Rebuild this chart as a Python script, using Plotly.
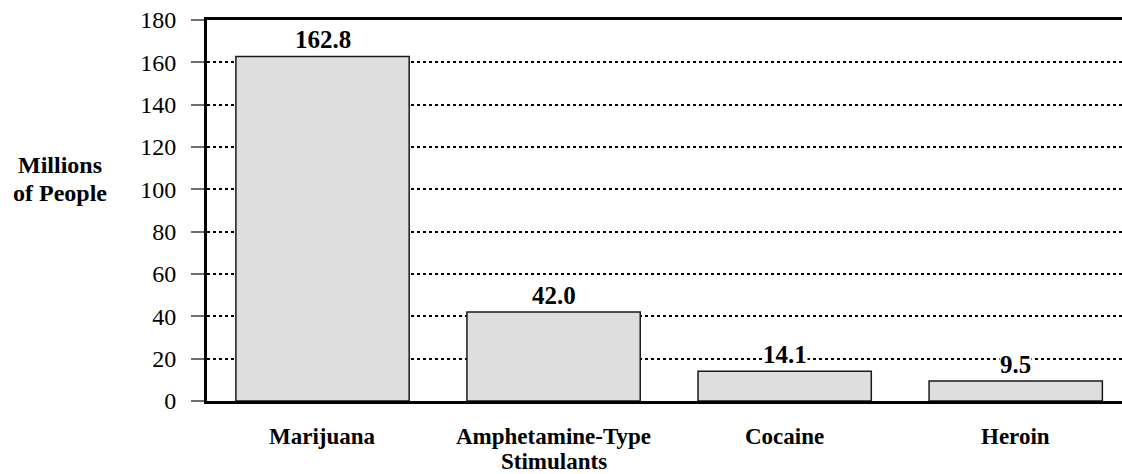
import plotly.graph_objects as go

categories = ["Marijuana", "Amphetamine-Type<br>Stimulants", "Cocaine", "Heroin"]
values = [162.8, 42.0, 14.1, 9.5]
value_labels = ["162.8", "42.0", "14.1", "9.5"]
y_ticks = [0, 20, 40, 60, 80, 100, 120, 140, 160, 180]
y_title_lines = ["Millions", "of People"]

FONT = "'Times New Roman', 'Liberation Serif', Times, serif"

fig = go.Figure()
fig.add_trace(go.Bar(
    x=categories, y=values, width=0.75,
    marker=dict(color="#DEDEDE", line=dict(color="#1a1a1a", width=1.5)),
    hoverinfo="skip",
))

# value labels above bars (white background interrupts the gridlines)
for c, v, t in zip(categories, values, value_labels):
    fig.add_annotation(x=c, y=v, text="<b>%s</b>" % t, showarrow=False,
                       yanchor="bottom", yshift=2, bgcolor="white",
                       font=dict(family=FONT, size=25, color="black"), borderpad=0)

# category labels, one annotation per line for tight line spacing
for c in categories:
    for i, line in enumerate(c.split("<br>")):
        fig.add_annotation(x=c, y=0, yref="y", text="<b>%s</b>" % line,
                           showarrow=False, yanchor="middle",
                           yshift=-35 - 25 * i,
                           font=dict(family=FONT, size=23, color="black"))

# y-axis title, horizontal, two lines
for i, line in enumerate(y_title_lines):
    fig.add_annotation(xref="paper", yref="paper", x=(60 - 207) / 915,
                       y=(401 - (165 + 28 * i)) / 381,
                       text="<b>%s</b>" % line, showarrow=False,
                       xanchor="center", yanchor="middle",
                       font=dict(family=FONT, size=24, color="black"))

fig.update_layout(
    width=1122, height=474,
    margin=dict(l=207, r=0, t=20, b=73),
    paper_bgcolor="white", plot_bgcolor="white",
    showlegend=False,
    font=dict(family=FONT, size=18, color="black"),
    xaxis=dict(
        range=[-0.5, 3.46], showgrid=False,
        showline=True, linecolor="black", linewidth=3, mirror=True,
        showticklabels=False, ticks="",
    ),
    yaxis=dict(
        range=[0, 180], tickvals=y_ticks,
        showgrid=True, gridcolor="black", gridwidth=1.5, griddash="dot",
        showline=True, linecolor="black", linewidth=3,
        ticks="outside", ticklen=13, tickcolor="#707070", tickwidth=1.5,
        ticklabelstandoff=10,
        tickfont=dict(family=FONT, size=24, color="black"),
        zeroline=False,
    ),
)

fig.write_html("out.html", config={"displayModeBar": False},
               post_script="document.body.style.margin='0';document.body.style.padding='0';")
